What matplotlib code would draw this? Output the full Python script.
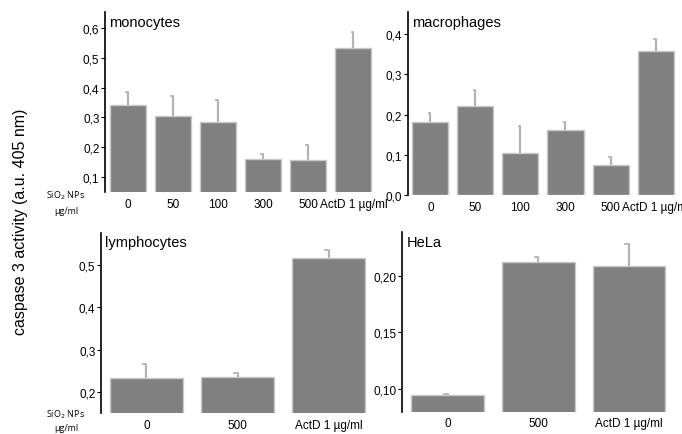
import matplotlib
matplotlib.use("Agg")
import matplotlib.pyplot as plt
from matplotlib.ticker import FuncFormatter

NARROW = ['Liberation Sans Narrow', 'Liberation Sans', 'DejaVu Sans']
plt.rcParams['font.family'] = NARROW

# values
mono_labels = ['0', '50', '100', '300', '500', 'ActD 1 µg/ml']
mono_vals = [0.343, 0.306, 0.286, 0.162, 0.156, 0.532]
mono_err = [0.043, 0.065, 0.071, 0.017, 0.051, 0.054]

macro_labels = ['0', '50', '100', '300', '500', 'ActD 1 µg/ml']
macro_vals = [0.183, 0.221, 0.106, 0.163, 0.075, 0.357]
macro_err = [0.020, 0.040, 0.065, 0.020, 0.019, 0.030]

lympho_labels = ['0', '500', 'ActD 1 µg/ml']
lympho_vals = [0.234, 0.236, 0.516]
lympho_err = [0.033, 0.009, 0.019]

hela_labels = ['0', '500', 'ActD 1 µg/ml']
hela_vals = [0.0947, 0.2118, 0.2083]
hela_err = [0.0013, 0.0042, 0.0197]

BAR = '#808080'
EDGE = '#c8c8c8'
ERR = '#b4b4b4'


def comma(dec):
    return FuncFormatter(lambda v, p: f'{v:.{dec}f}'.replace('.', ','))


def panel(rect, labels, vals, err, title, ylim, yticks, dec, xmax):
    ax = fig.add_axes(rect)
    x = list(range(len(vals)))
    ax.bar(x, vals, width=0.8, color=BAR, edgecolor=EDGE, linewidth=1.0, zorder=2)
    ax.errorbar(x, vals, yerr=[[0] * len(err), err], fmt='none', ecolor=ERR,
                elinewidth=1.6, capsize=0, zorder=1)
    for xi, v, e in zip(x, vals, err):
        ax.plot([xi - 0.04, xi], [v + e, v + e], color=ERR, lw=1.3, zorder=1)
    ax.set_xlim(-0.5, xmax)
    ax.set_ylim(*ylim)
    ax.set_yticks(yticks)
    ax.yaxis.set_major_formatter(comma(dec))
    ax.set_xticks(x)
    ax.set_xticklabels(labels)
    for s in ['top', 'right', 'bottom']:
        ax.spines[s].set_visible(False)
    ax.spines['left'].set_linewidth(1.2)
    ax.tick_params(axis='y', length=3, width=0.8, labelsize=8.5, pad=1)
    ax.tick_params(axis='x', length=0, labelsize=8.5, pad=4)
    ax.text(0.015, 0.985, title, transform=ax.transAxes, ha='left', va='top',
            fontsize=10.5, family=['Liberation Sans', 'DejaVu Sans'])
    return ax


fig = plt.figure(figsize=(6.82, 4.35), dpi=100)

panel([0.154, 0.556, 0.394, 0.414], mono_labels, mono_vals, mono_err,
      'monocytes', (0.05, 0.653), [0.1, 0.2, 0.3, 0.4, 0.5, 0.6], 1, 5.45)
panel([0.598, 0.549, 0.393, 0.421], macro_labels, macro_vals, macro_err,
      'macrophages', (0.0, 0.455), [0.0, 0.1, 0.2, 0.3, 0.4], 1, 5.45)
panel([0.148, 0.048, 0.394, 0.415], lympho_labels, lympho_vals, lympho_err,
      'lymphocytes', (0.151, 0.576), [0.2, 0.3, 0.4, 0.5], 1, 2.45)
panel([0.590, 0.0513, 0.392, 0.412], hela_labels, hela_vals, hela_err,
      'HeLa', (0.080, 0.238), [0.10, 0.15, 0.20], 2, 2.45)

fig.text(0.030, 0.49, 'caspase 3 activity (a.u. 405 nm)', rotation=90,
         ha='center', va='center', fontsize=11.5, family=['Liberation Sans', 'DejaVu Sans'])

for y1, y2 in [(196, 212), (415, 429)]:
    fig.text(66 / 682, 1 - y1 / 435, 'SiO$_2$ NPs', ha='center', va='center',
             fontsize=6.5, family=['Open Sans', 'DejaVu Sans'])
    fig.text(66 / 682, 1 - y2 / 435, 'µg/ml', ha='center', va='center',
             fontsize=6.5, family=['Open Sans', 'DejaVu Sans'])

fig.savefig('out.png', dpi=100)
